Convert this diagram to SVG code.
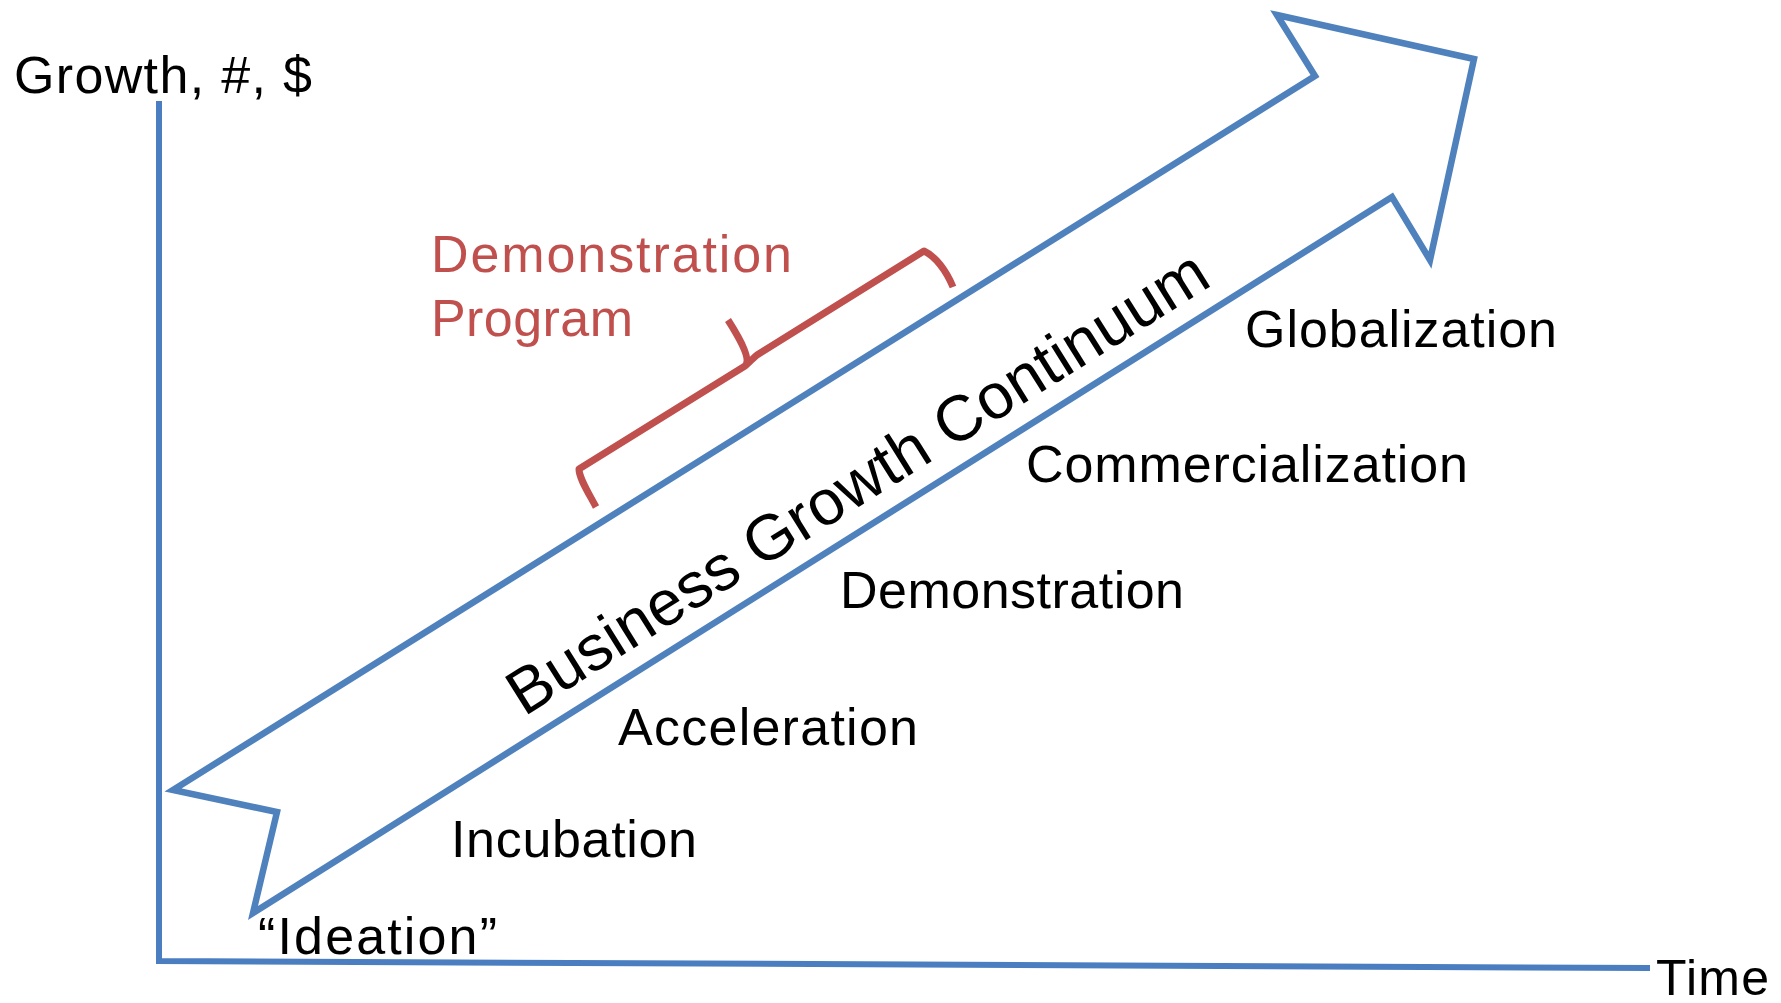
<svg xmlns="http://www.w3.org/2000/svg" width="1781" height="1003" viewBox="0 0 1781 1003">
<style>
.lbl{font-family:"Liberation Sans",Arial,sans-serif;font-size:52px;fill:#000}
.red{fill:#C0504D}
.blue{fill:#fff;stroke:#4F81BD;stroke-width:6.5;stroke-linejoin:miter}
.axis{fill:none;stroke:#4A7EC0;stroke-width:6}
.brace{fill:none;stroke:#C0504D;stroke-width:7;stroke-linecap:butt;stroke-linejoin:round}
</style>
<rect width="1781" height="1003" fill="#fff"/>
<g id="connectors">
<path id="axes" class="axis" d="M159,101 L159,961 L1650,968"/>
</g>
<g id="arrow">
<polygon class="blue" points="1277,15 1474,59 1430,260 1392,197 253,913 277,812 173,790 1315,76"/>
<text class="lbl" style="font-size:64px" transform="translate(524,717) rotate(-32.1)" textLength="814">Business Growth Continuum</text>
</g>
<g id="brace">
<path class="brace" d="M596,507 C588,492 579,478 579,469 L745,366 C751,360 742,342 728,320 M745,366 C750,362 753,358 757,355 L924,251 C935,256 946,270 953,287"/>
</g>
<g id="label-y"><text class="lbl" x="14" y="93" textLength="298">Growth, #, $</text></g>
<g id="label-program"><text class="lbl red" x="431" y="272" textLength="361">Demonstration</text><text class="lbl red" x="431" y="336" textLength="202">Program</text></g>
<g id="stage-globalization"><text class="lbl" x="1245" y="347" textLength="312">Globalization</text></g>
<g id="stage-commercialization"><text class="lbl" x="1026" y="482" textLength="442">Commercialization</text></g>
<g id="stage-demonstration"><text class="lbl" x="840" y="608" textLength="344">Demonstration</text></g>
<g id="stage-acceleration"><text class="lbl" x="618" y="745" textLength="300">Acceleration</text></g>
<g id="stage-incubation"><text class="lbl" x="451" y="857" textLength="246">Incubation</text></g>
<g id="stage-ideation"><text class="lbl" x="258" y="954" textLength="239">“Ideation”</text></g>
<g id="label-x"><text class="lbl" style="font-size:50px" x="1656" y="995" textLength="113">Time</text></g>
</svg>
